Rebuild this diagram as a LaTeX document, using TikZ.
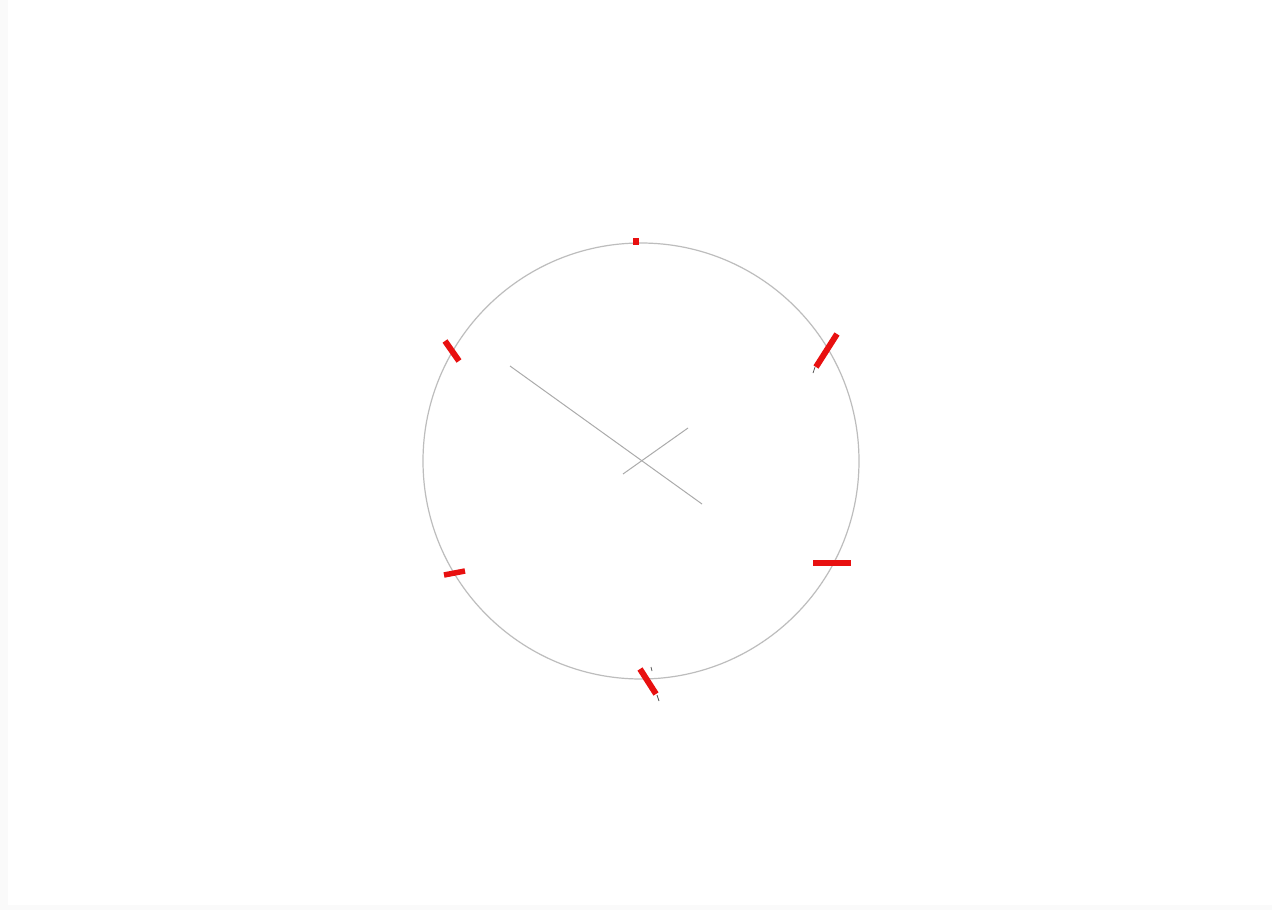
\documentclass[tikz,border=0pt]{standalone}
\begin{document}
\begin{tikzpicture}[x=1pt,y=-1pt,
  rim/.style={draw=black!26,line width=1.2pt},
  pencil/.style={draw=black!33,line width=1pt},
  redmark/.style={draw={rgb,255:red,232;green,16;blue,16},line width=6pt},
  graphite/.style={draw=black!65,line width=0.8pt}]
\useasboundingbox (0,0) rectangle (1272,910);
\fill[white] (0,0) rectangle (1272,910);
\fill[black!2] (0,0) rectangle (8,910);
\fill[black!2] (0,905) rectangle (1272,910);
% circle
\coordinate (c) at (641,461);
\draw[rim] (c) circle (218);
% hands
\coordinate (h1a) at (510,366);
\coordinate (h1b) at (702,504);
\coordinate (h2a) at (623,474);
\coordinate (h2b) at (688,428);
\draw[pencil] (h1a) -- (h1b);
\draw[pencil] (h2a) -- (h2b);
% small graphite tails
\draw[graphite] (815,367) -- (813,373);
\draw[graphite] (651,667) -- (652,671);
\draw[graphite] (657,695) -- (659,701);
% red marks
\draw[redmark,line width=6.5pt] (636,238) -- (636,245);
\draw[redmark] (837,334) -- (816,367);
\draw[redmark] (445,341) -- (459,361);
\draw[redmark,line width=5.5pt] (813,563) -- (851,563);
\draw[redmark,line width=5.5pt] (444,575) -- (465,571);
\draw[redmark] (640,669) -- (656,694);
\end{tikzpicture}
\end{document}
